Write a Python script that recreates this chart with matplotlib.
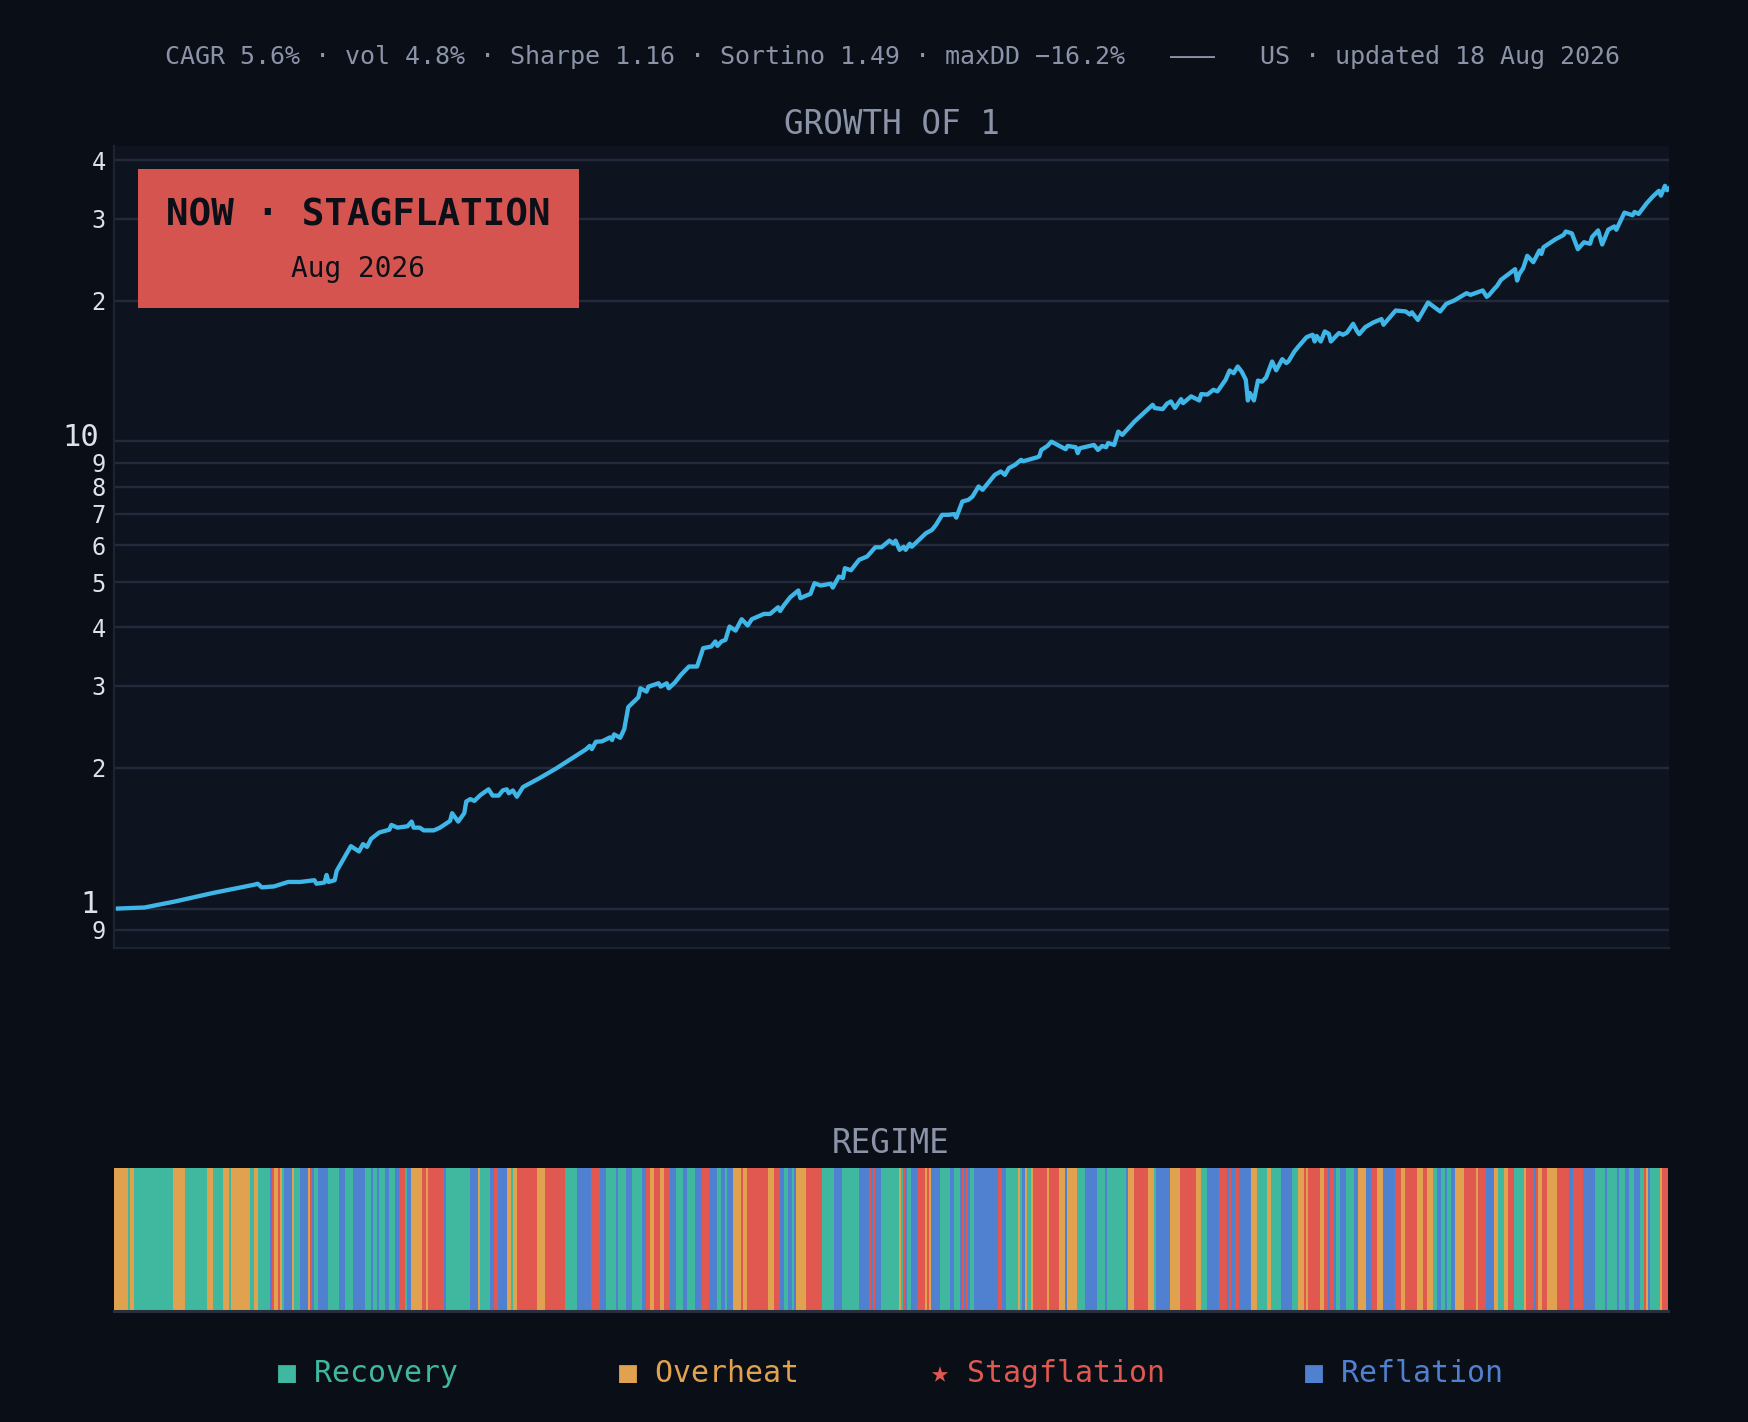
import matplotlib
matplotlib.use('Agg')
import matplotlib.pyplot as plt
import matplotlib.ticker as mticker
from matplotlib.patches import Rectangle
from matplotlib.transforms import ScaledTranslation
import numpy as np

#   Colours
BG = '#0a0e17'
PANEL = '#0e1320'
GRID = '#222a3b'
MUTED = '#8b93a8'
TICK = '#dde2ea'
LINE = '#3fb6e8'

header_str = ("CAGR 5.6% · vol 4.8% · Sharpe 1.16 · Sortino 1.49 · maxDD −16.2%"
              "   ———   US · updated 18 Aug 2026")
now_regime = 'Stagflation'
now_month = 'Aug 2026'

regime_codes = ['G', 'O', 'R', 'B']
regime_names = ['Recovery', 'Overheat', 'Stagflation', 'Reflation']
regime_colors = ['#40b8a0', '#e0a24e', '#e05850', '#5080d0']

#   monthly regime runs (code + months), Aug 1962 .. Aug 2026
regime_runs = (
    "O7 G1 O2 G19 O6 G11 O3 G5 O3 G1 O9 G2 O2 G6 B1 R1 O2 R1 O1 G1 "
    "B4 O1 G3 B4 O1 R1 B1 G2 B5 G5 B3 G4 B6 G3 B1 G2 B1 G3 B2 G3 "
    "B2 R3 G1 B2 O5 R2 O1 R8 B1 G12 B4 O1 G5 B2 R2 B4 O2 G1 O2 R10 "
    "O4 R10 G6 B7 R4 B3 G5 B1 G4 "
    "B3 G5 B2 R2 O2 R3 O2 R3 B3 G3 B2 G4 B3 R4 B4 G2 B2 G1 B3 O4 "
    "R1 O2 R10 O3 R3 B2 G2 B2 G1 B1 O5 R8 G6 B4 G8 B5 R1 B1 R1 B3 "
    "G9 O1 G1 R1 B1 G2 B3 R4 O1 R1 O1 B4 G5 B2 G3 B1 R1 B1 R1 B1 "
    "G2 B12 R2 B2 G6 O1 G1 B1 O1 G2 O1 R7 O1 R5 O3 B1 O5 G4 B6 G4 "
    "B1 G9 B1 O3 R7 "
    "O3 G1 B7 O5 R8 O2 G3 B6 R4 B1 R1 B2 R2 B6 O3 G5 O2 G5 B5 G3 "
    "O3 R1 O1 R6 O2 R2 B1 R2 B1 G2 B3 G4 B2 O4 B2 R3 O3 B6 R3 O2 "
    "R6 O3 R2 O3 G2 B2 G2 B1 G2 B2 O4 R6 O1 R4 B4 O2 G3 O2 R3 G5 "
    "O1 R4 B1 R1 O2 R2 O5 R6 B2 R5 B6 G5 B1 G5 B1 G3 B2 G2 B3 G2 "
    "R1 O1 B1 G5 O1 R3"
).split()

#   growth of 1 (months since start, value)
growth_month = [
    2, 15, 30, 49, 69, 71, 73, 79, 86, 92, 99, 100, 104, 105, 106, 109, 110,
    117, 121, 123, 125, 127, 131, 136, 137, 140, 145, 147, 148, 151, 153, 158,
    161, 166, 167, 170, 173, 174, 176, 178, 181, 185, 187, 190, 192, 194, 195,
    197, 199, 202, 210, 218, 229, 233, 235, 236, 238, 241, 245, 246, 247, 250,
    252, 254, 257,
    259, 260, 263, 264, 269, 270, 273, 274, 277, 280, 284, 288, 291, 295, 297,
    298, 300, 302, 304, 307, 310, 313, 315, 321, 324, 328, 329, 331, 334, 338,
    339, 341, 344, 346, 349, 354, 355, 358, 360, 361, 364, 368, 372, 376, 379,
    383, 385, 386, 388, 390, 391, 393, 394, 401, 404, 406, 409, 412, 415, 416,
    419, 422, 424, 427, 429, 435, 438, 440, 442, 445, 448, 449, 456, 457, 458,
    461, 463, 470, 471, 475, 476, 477, 484, 486, 488, 490, 491, 494, 496, 498,
    504,
    513, 514, 518, 520, 522, 524, 527, 528, 532, 536, 537, 540, 543, 545, 549,
    551, 553, 555, 557, 559, 560, 561, 563, 565, 567, 569, 572, 574, 577, 579,
    580, 583, 585, 589, 592, 593, 594, 596, 598, 600, 601, 605, 607, 609, 612,
    614, 615, 618, 622, 626, 627, 629, 633, 638, 640, 641, 644, 649, 655, 658,
    662, 668, 670, 676, 678, 679, 682, 683, 685, 692, 693, 694, 696, 698, 701,
    704, 705, 706, 712, 716, 717, 720, 723, 726, 729, 730, 731, 733, 735, 738,
    741, 742, 746, 750, 751, 753, 757, 760, 763, 764, 766, 767, 768,
]
growth_value = [
    1.00, 1.005, 1.035, 1.08, 1.124, 1.13, 1.11, 1.115, 1.14, 1.14, 1.15, 1.13,
    1.137, 1.18, 1.14, 1.15, 1.204,
    1.36, 1.325, 1.374, 1.355, 1.41, 1.455, 1.475, 1.51, 1.49, 1.50, 1.535,
    1.49, 1.49, 1.47, 1.47,
    1.49, 1.54, 1.60, 1.535, 1.60, 1.695, 1.715, 1.70, 1.75, 1.80, 1.745,
    1.745, 1.79, 1.80, 1.765,
    1.79, 1.735, 1.82, 1.90, 1.99, 2.135, 2.19, 2.23, 2.195, 2.275, 2.28,
    2.325, 2.295, 2.36, 2.32,
    2.42, 2.70, 2.78,
    2.833, 2.962, 2.913, 2.987, 3.036, 2.987, 3.036, 2.962, 3.046, 3.164,
    3.297, 3.297, 3.609, 3.639, 3.73,
    3.65, 3.73, 3.76, 4.015, 3.936, 4.163, 4.036, 4.163, 4.273, 4.273, 4.416,
    4.336, 4.467, 4.64, 4.796,
    4.617, 4.66, 4.718, 4.972, 4.915, 4.96, 4.866, 5.137, 5.10, 5.353, 5.30,
    5.58, 5.672, 5.935, 5.935,
    6.133, 6.04, 6.133, 5.86, 5.95, 5.86, 6.04, 5.95, 6.36, 6.465, 6.63,
    6.965, 6.965, 6.99, 6.87,
    7.437, 7.50, 7.62, 8.01, 7.88, 8.48, 8.625, 8.48, 8.77, 8.91, 9.135, 9.07,
    9.25, 9.29, 9.59,
    9.78, 9.99, 9.625, 9.78, 9.72, 9.44, 9.67, 9.83, 9.59, 9.78, 9.72, 9.92,
    9.83, 10.50, 10.33,
    11.03,
    11.98, 11.79, 11.73, 12.04, 12.18, 11.79, 12.32, 12.08, 12.49, 12.24,
    12.63, 12.6, 12.90, 12.8, 13.55,
    14.19, 14.0, 14.47, 14.1, 13.55, 12.24, 12.7, 12.24, 13.50, 13.43, 13.7,
    14.83, 14.2, 15.0, 14.72,
    14.83, 15.58, 15.97, 16.72, 16.92, 16.37, 16.82, 16.37, 17.2, 17.0, 16.37,
    17.07, 16.92, 17.1, 17.86,
    17.2, 16.97, 17.57, 17.98, 18.28, 17.78, 18.2, 19.07, 18.98, 18.7, 18.9,
    18.2, 19.84, 18.98, 19.71,
    20.04, 20.77, 20.6, 21.05, 20.4, 20.55, 21.29, 21.5, 22.18, 23.38, 22.1,
    22.8, 23.5, 24.97, 24.2,
    25.64, 25.2, 26.05, 27.1, 27.69, 28.15, 27.9, 25.8, 26.7, 26.5, 27.4,
    27.7, 28.3, 26.4, 28.4,
    28.86, 28.4, 30.9, 30.5, 31.0, 30.7, 32.36, 33.45, 34.4, 33.6, 35.26,
    34.5, 34.8,
]

major_ticks = [1, 10]
minor_ticks = [0.9, 2, 3, 4, 5, 6, 7, 8, 9, 20, 30, 40]

run_code = [r[0] for r in regime_runs]
run_len = [int(r[1:]) for r in regime_runs]
run_start = np.concatenate([[0], np.cumsum(run_len)[:-1]])
n_months = int(np.sum(run_len))

plt.rcParams['font.family'] = ['DejaVu Sans Mono', 'DejaVu Sans']

#   Figure Setting
fig = plt.figure(figsize=(17.48, 14.22), dpi=100, facecolor=BG)
ax = fig.add_axes([0.0652, 0.3333, 0.8896, 0.5640])
rax = fig.add_axes([0.0652, 0.0781, 0.8890, 0.1005])

fig.text(0.5103, 0.9600, header_str, color=MUTED, fontsize=18,
         ha='center', va='center')

#   Growth panel
ax.set_facecolor(PANEL)
ax.plot(growth_month, growth_value, color=LINE, lw=3.1, solid_joinstyle='round')
ax.set_yscale('log')
ax.set_xlim(0, n_months)
ax.set_ylim(0.823, 42.9)
ax.yaxis.set_major_locator(mticker.FixedLocator(major_ticks))
ax.yaxis.set_minor_locator(mticker.FixedLocator(minor_ticks))
ax.yaxis.set_major_formatter(mticker.FuncFormatter(lambda v, p: '%g' % v))
ax.yaxis.set_minor_formatter(mticker.FuncFormatter(
    lambda v, p: str(int(round(v / 10 ** np.floor(np.log10(v) + 1e-9))))))
ax.tick_params(axis='y', which='major', length=0, pad=11, labelsize=22, labelcolor=TICK)
ax.tick_params(axis='y', which='minor', length=0, pad=6, labelsize=17, labelcolor=TICK)
ax.set_xticks([])
ax.grid(which='both', axis='y', color=GRID, lw=1.7)
ax.set_axisbelow(True)
for side in ['top', 'right']:
    ax.spines[side].set_visible(False)
for side in ['left', 'bottom']:
    ax.spines[side].set_color('#1c2332')
    ax.spines[side].set_linewidth(1.6)
ax.set_title('GROWTH OF 1', color=MUTED, fontsize=23.5, pad=9)

#   lift the big decade labels a little, as in the original
shift = ScaledTranslation(0, 5 / 72., fig.dpi_scale_trans)
for lbl in ax.yaxis.get_majorticklabels():
    lbl.set_transform(lbl.get_transform() + shift)

#   "now" box
ax.add_patch(Rectangle((0.0154, 0.798), 0.2836, 0.173, transform=ax.transAxes,
                       facecolor='#d6544f', edgecolor='none', zorder=5))
ax.text(0.157, 0.914, 'NOW · ' + now_regime.upper(), transform=ax.transAxes,
        ha='center', va='center', fontsize=27, fontweight='bold', color='#0b0f17', zorder=6)
ax.text(0.157, 0.847, now_month, transform=ax.transAxes,
        ha='center', va='center', fontsize=20, color='#0b0f17', zorder=6)

#   Regime strip
rax.set_facecolor(BG)
for code, color in zip(regime_codes, regime_colors):
    segs = [(s, l) for s, l, c in zip(run_start, run_len, run_code) if c == code]
    rax.broken_barh(segs, (0, 1), facecolors=color, edgecolor='none')
rax.set_xlim(0, n_months)
rax.set_ylim(0, 1)
rax.set_xticks([])
rax.set_yticks([])
for side in ['top', 'right', 'left']:
    rax.spines[side].set_visible(False)
rax.spines['bottom'].set_color('#283040')
rax.spines['bottom'].set_linewidth(2.2)
rax.set_title('REGIME', color=MUTED, fontsize=23.5, pad=11)

#   Legend
legend_x = [0.2105, 0.4056, 0.5995, 0.8032]
for x, name, color in zip(legend_x, regime_names, regime_colors):
    mark = '★' if name == now_regime else '■'
    fig.text(x, 0.0340, mark + ' ' + name, color=color, fontsize=21.5,
             ha='center', va='center')

fig.savefig('out.png', dpi=100, facecolor=BG)
